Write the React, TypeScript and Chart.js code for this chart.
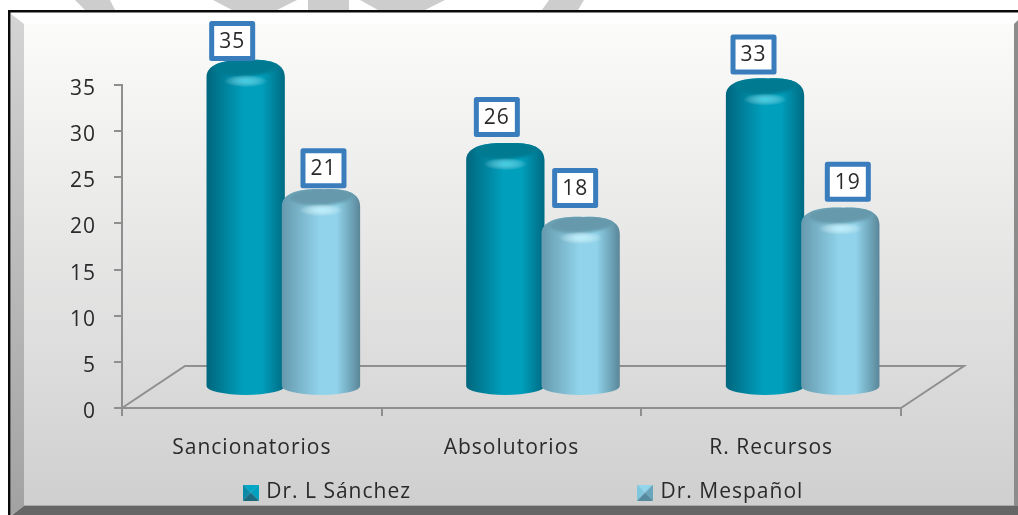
import React, { useEffect, useRef } from "react";
import { Chart, registerables } from "chart.js";

Chart.register(...registerables);

const categories = ["Sancionatorios", "Absolutorios", "R. Recursos"];
const sanchezValues = [35, 26, 33];
const mespanolValues = [21, 18, 19];
const seriesNames = ["Dr. L Sánchez", "Dr. Mespañol"];
const yTicks = [0, 5, 10, 15, 20, 25, 30, 35];

const FONT = '"Open Sans", sans-serif';
const TEXT = "#2a2a2a";
const AXIS = "#8f8f8f";
const LEGEND_GAP = 229;

// hand placed callout nudges, [series][category] => [dx, dy] from the bar top
const NUDGE = [
  [[-13, -23], [-8, -30], [-11, -28]],
  [[3, -25], [-5, -33], [8, -30]],
];

const PALETTE = [
  { edgeL: "#00667e", mid: "#00a0bd", edgeR: "#006a82", cap: "#007a91", glow: "rgba(90,225,245,0.7)" },
  { edgeL: "#6699ad", mid: "#90d3ea", edgeR: "#5a8699", cap: "#6699ab", glow: "rgba(190,245,255,0.85)" },
];

function makeIcon(c: string[]) {
  const cv = document.createElement("canvas");
  cv.width = 16;
  cv.height = 16;
  const g = cv.getContext("2d")!;
  const tri = (pts: number[], col: string) => {
    g.fillStyle = col;
    g.beginPath();
    g.moveTo(pts[0], pts[1]);
    g.lineTo(pts[2], pts[3]);
    g.lineTo(8, 8);
    g.closePath();
    g.fill();
  };
  tri([0, 0, 16, 0], c[0]);
  tri([16, 0, 16, 16], c[1]);
  tri([16, 16, 0, 16], c[2]);
  tri([0, 16, 0, 0], c[3]);
  return cv;
}

const framePlugin = {
  id: "frame",
  beforeLayout(chart: any) {
    chart.ctx.letterSpacing = "1px";
    const lg = chart.legend;
    if (lg && !lg.__wrapped) {
      const fit = lg.fit;
      lg.fit = function () {
        const w = this.maxWidth;
        this.maxWidth = 2000;
        fit.call(this);
        this.maxWidth = w;
        this.width = w;
        this.height = 30;
      };
      lg.__wrapped = true;
    }
  },
  afterLayout(chart: any) {
    const lg = chart.legend;
    if (lg) {
      lg.left = 4;
      lg.right = 1045;
      lg.top = 482 - LEGEND_GAP;
      lg.bottom = 515;
    }
  },
  beforeDraw(chart: any) {
    const c = chart.ctx;
    const W = chart.width;
    const H = chart.height;
    c.letterSpacing = "1px";
    c.save();
    c.fillStyle = "#ffffff";
    c.fillRect(0, 0, W, H);
    // watermark remnants above the frame
    c.fillStyle = "#cdcdcd";
    const marks = [
      [75, 0, 85, 10, 115, 10, 110, 0],
      [213, 0, 232, 10, 277, 10, 297, 0],
      [308, 0, 308, 10, 349, 10, 349, 0],
      [360, 0, 378, 10, 425, 10, 445, 0],
      [549, 0, 542, 10, 578, 10, 584, 0],
    ];
    marks.forEach((m) => {
      c.beginPath();
      c.moveTo(m[0], m[1]);
      c.lineTo(m[2], m[3]);
      c.lineTo(m[4], m[5]);
      c.lineTo(m[6], m[7]);
      c.closePath();
      c.fill();
    });
    // face
    const face = c.createLinearGradient(0, 24, 0, 506);
    face.addColorStop(0, "#fbfbfa");
    face.addColorStop(1, "#cfcfcf");
    c.fillStyle = face;
    c.fillRect(10, 12, W - 10, H - 12);
    // top bevel
    c.fillStyle = "#fefefe";
    c.beginPath();
    c.moveTo(11, 12);
    c.lineTo(W, 12);
    c.lineTo(W, 24);
    c.lineTo(24, 24);
    c.closePath();
    c.fill();
    // left bevel
    const left = c.createLinearGradient(0, 12, 0, 515);
    left.addColorStop(0, "#d4d4d4");
    left.addColorStop(1, "#a2a2a2");
    c.fillStyle = left;
    c.beginPath();
    c.moveTo(11, 14);
    c.lineTo(24, 24);
    c.lineTo(24, 506);
    c.lineTo(11, 515);
    c.closePath();
    c.fill();
    // right bevel
    c.fillStyle = "#8c8c8c";
    c.beginPath();
    c.moveTo(1018, 20);
    c.lineTo(1014, 24);
    c.lineTo(1014, 506);
    c.lineTo(1018, 515);
    c.closePath();
    c.fill();
    // bottom bevel
    c.fillStyle = "#666666";
    c.beginPath();
    c.moveTo(24, 506);
    c.lineTo(1018, 506);
    c.lineTo(1018, 515);
    c.lineTo(12, 515);
    c.closePath();
    c.fill();
    c.fillStyle = "#a9a9a9";
    c.fillRect(24, 505, 990, 1);
    // black outline
    c.fillStyle = "#0a0a0a";
    c.fillRect(8, 10, W - 8, 2.5);
    c.fillRect(8, 10, 2.5, H - 10);
    c.restore();
  },
  beforeDatasetsDraw(chart: any) {
    const c = chart.ctx;
    const { left, right, bottom } = chart.chartArea;
    c.save();
    c.strokeStyle = AXIS;
    c.lineWidth = 2;
    c.beginPath();
    c.moveTo(left, bottom);
    c.lineTo(left + 63, bottom - 42);
    c.lineTo(right + 63, bottom - 42);
    c.lineTo(right, bottom);
    c.stroke();
    c.restore();
  },
  beforeDatasetDraw() {
    return false;
  },
  afterDatasetsDraw(chart: any) {
    const c = chart.ctx;
    const metas = [chart.getDatasetMeta(0), chart.getDatasetMeta(1)];
    categories.forEach((_, i) => {
      metas.forEach((meta, s) => {
        const el = meta.data[i];
        const p = PALETTE[s];
        const w = el.width + 3;
        const cx = el.x + 31.5;
        const l = cx - w / 2;
        const r = cx + w / 2;
        const top = el.y - 25;
        const shoulder = top + 17;
        const baseY = el.base - 21;
        c.save();
        const g = c.createLinearGradient(l, 0, r, 0);
        g.addColorStop(0, p.edgeL);
        g.addColorStop(0.48, p.mid);
        g.addColorStop(0.7, p.mid);
        g.addColorStop(1, p.edgeR);
        c.fillStyle = g;
        c.beginPath();
        c.moveTo(l, shoulder);
        c.bezierCurveTo(l, top + 4, cx - w * 0.28, top - 1, cx + 3, top);
        c.bezierCurveTo(cx + w * 0.3, top - 1, r, top + 3, r, shoulder);
        c.lineTo(r, baseY);
        c.ellipse(cx, baseY, w / 2, 9, 0, 0, Math.PI);
        c.closePath();
        c.fill();
        c.clip();
        // darker cap, soft edged
        c.save();
        c.filter = "blur(1.5px)";
        c.fillStyle = p.cap;
        c.beginPath();
        c.ellipse(cx + 1, top + 7, w / 2 - 7, 9, -0.05, 0, Math.PI * 2);
        c.fill();
        c.restore();
        // highlight just below the cap
        c.translate(cx, top + 21);
        c.scale(1, 0.28);
        const h = c.createRadialGradient(0, 0, 0, 0, 0, 22);
        h.addColorStop(0, p.glow);
        h.addColorStop(1, "rgba(255,255,255,0)");
        c.fillStyle = h;
        c.beginPath();
        c.arc(0, 0, 22, 0, Math.PI * 2);
        c.fill();
        c.restore();
      });
    });
    // callouts
    metas.forEach((meta, s) => {
      meta.data.forEach((el: any, i: number) => {
        const [dx, dy] = NUDGE[s][i];
        const cx = el.x + 31 + dx;
        const cy = el.y - 21 + dy;
        c.save();
        c.fillStyle = "#ffffff";
        c.strokeStyle = "#3a7dbd";
        c.lineWidth = 5;
        c.lineJoin = "round";
        c.beginPath();
        c.rect(cx - 20.5, cy - 17.5, 41, 35);
        c.fill();
        c.stroke();
        c.fillStyle = TEXT;
        c.font = `21px ${FONT}`;
        c.textAlign = "center";
        c.textBaseline = "middle";
        const value = s === 0 ? sanchezValues[i] : mespanolValues[i];
        c.fillText(String(value), cx, cy + 1);
        c.restore();
      });
    });
  },
};

export default function App() {
  const ref = useRef<HTMLCanvasElement>(null);
  useEffect(() => {
    document.body.style.margin = "0";
    const icons = [
      makeIcon(["#00a6c6", "#00a0bf", "#1b6a80", "#0a8aa6"]),
      makeIcon(["#93d6ec", "#6aa6bb", "#568a9e", "#7fc6dc"]),
    ];
    const chart = new Chart(ref.current!, {
      type: "bar",
      data: {
        labels: categories,
        datasets: [
          { label: seriesNames[0], data: sanchezValues, backgroundColor: "#00a0bd" },
          { label: seriesNames[1], data: mespanolValues, backgroundColor: "#90d3ea" },
        ],
      },
      plugins: [framePlugin],
      options: {
        responsive: false,
        animation: false,
        layout: { padding: { top: 85, right: 117, left: 0, bottom: 0 } },
        datasets: { bar: { categoryPercentage: 0.58, barPercentage: 1 } },
        scales: {
          x: {
            grid: { display: true, drawOnChartArea: false, color: AXIS, tickLength: 8, lineWidth: 2 },
            border: { color: AXIS, width: 2 },
            ticks: { color: TEXT, font: { family: FONT, size: 21 }, padding: 19, maxRotation: 0 },
            afterFit(s: any) {
              s.height = 77;
            },
          },
          y: {
            min: 0,
            max: 35,
            afterBuildTicks(s: any) {
              s.ticks = yTicks.map((v) => ({ value: v }));
            },
            afterUpdate(s: any) {
              const orig = s.getLabelItems;
              s.getLabelItems = function (area: any) {
                return orig.call(this, area).map((it: any) => ({ ...it, textOffset: it.textOffset + 2 }));
              };
            },
            grid: { display: true, drawOnChartArea: false, color: AXIS, tickLength: 8, lineWidth: 2 },
            border: { color: AXIS, width: 2 },
            ticks: { color: TEXT, font: { family: FONT, size: 21 }, padding: 18, autoSkip: false },
            afterFit(s: any) {
              s.width = 122;
            },
          },
        },
        plugins: {
          tooltip: { enabled: false },
          legend: {
            position: "bottom",
            labels: {
              color: TEXT,
              font: { family: FONT, size: 21 },
              usePointStyle: true,
              boxWidth: 10,
              padding: LEGEND_GAP,
              boxHeight: 16,
              generateLabels(ch: any) {
                return Chart.defaults.plugins.legend.labels
                  .generateLabels(ch)
                  .map((it: any, i: number) => ({ ...it, pointStyle: icons[i] }));
              },
            },
          },
        },
      },
    } as any);
    return () => chart.destroy();
  }, []);
  return <canvas ref={ref} width={1018} height={515} style={{ display: "block", filter: "blur(0.5px)" }} />;
}
